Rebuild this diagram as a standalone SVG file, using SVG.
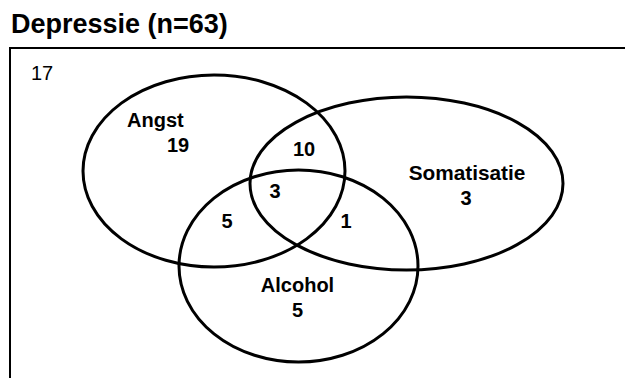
<svg xmlns="http://www.w3.org/2000/svg" width="625" height="378" viewBox="0 0 625 378">
  <style>
    .title { font-family: "Liberation Sans", Arial, sans-serif; font-weight: bold; font-size: 27px; fill: #000; }
    .lbl { font-family: "Liberation Sans", Arial, sans-serif; font-weight: bold; font-size: 20px; fill: #000; }
    .plain { font-family: "Liberation Sans", Arial, sans-serif; font-size: 20px; fill: #000; }
    .set { fill: none; stroke: #000; stroke-width: 3; }
    .frame { fill: none; stroke: #000; stroke-width: 2; }
  </style>
  <rect width="625" height="378" fill="#fff"/>
  <text class="title" x="11" y="33">Depressie (n=63)</text>

  <!-- universe frame, running off the right and bottom edges -->
  <rect class="frame" x="10" y="48" width="640" height="360"/>
  <text class="plain" x="31" y="80">17</text>

  <g id="angst">
    <ellipse class="set" cx="214" cy="171" rx="131" ry="96"/>
    <text class="lbl" x="127" y="127">Angst</text>
    <text class="lbl" x="167" y="152">19</text>
  </g>
  <g id="somatisatie">
    <ellipse class="set" cx="406.5" cy="183.5" rx="156.5" ry="86.5"/>
    <text class="lbl" x="467" y="180" text-anchor="middle" style="font-size:20.8px">Somatisatie</text>
    <text class="lbl" x="466" y="205" text-anchor="middle">3</text>
  </g>
  <g id="alcohol">
    <ellipse class="set" cx="298.5" cy="266" rx="119.5" ry="96"/>
    <text class="lbl" x="297.5" y="292" text-anchor="middle">Alcohol</text>
    <text class="lbl" x="297.5" y="317" text-anchor="middle">5</text>
  </g>

  <!-- overlap counts -->
  <g id="overlaps">
    <text class="lbl" x="304" y="156" text-anchor="middle">10</text>
    <text class="lbl" x="275" y="198" text-anchor="middle">3</text>
    <text class="lbl" x="227" y="228" text-anchor="middle">5</text>
    <text class="lbl" x="346" y="228" text-anchor="middle">1</text>
  </g>
</svg>
